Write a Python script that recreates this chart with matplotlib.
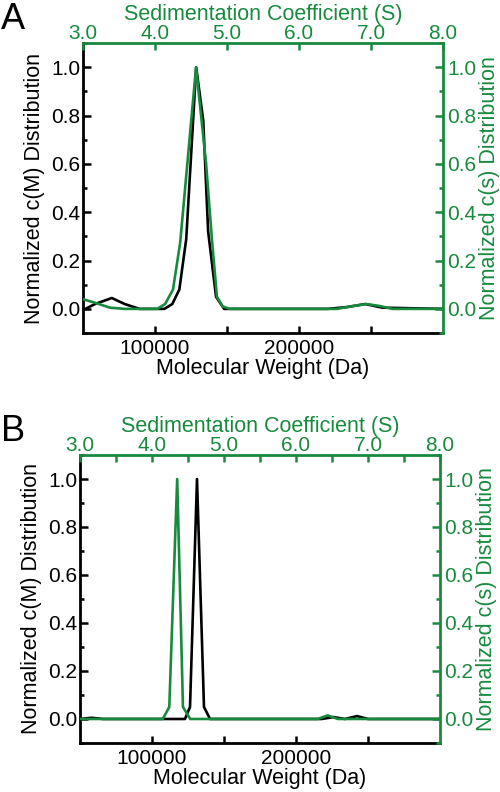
import matplotlib.pyplot as plt
from matplotlib.ticker import MultipleLocator, FixedLocator

plt.rcParams['font.family'] = ['Liberation Sans', 'DejaVu Sans']

GREEN = '#188a3e'

# Panel A: c(M) vs molecular weight (black), c(s) vs sedimentation coefficient (green)
a_mw = [50000, 58300, 70000, 79000, 89300, 106500, 112000, 116900, 121700, 128600,
        133500, 136900, 142400, 148000, 220000, 234000, 246000, 258000, 300000]
a_cm = [-0.005, 0.02, 0.045, 0.02, 0.0, 0.0, 0.02, 0.08, 0.29, 1.0,
        0.78, 0.32, 0.05, 0.0, 0.0, 0.008, 0.02, 0.005, 0.0]
a_s = [3.0, 3.17, 3.375, 3.58, 4.03, 4.14, 4.25, 4.35, 4.57, 4.71,
       4.79, 4.86, 4.94, 5.04, 6.53, 6.75, 6.94, 7.12, 7.3, 8.0]
a_cs = [0.04, 0.025, 0.005, 0.0, 0.0, 0.02, 0.08, 0.275, 1.0, 0.6,
        0.29, 0.05, 0.01, 0.0, 0.0, 0.012, 0.02, 0.012, 0.0, 0.0]

# Panel B
b_mw = [50000, 58000, 66000, 122900, 126400, 131250, 136100, 140300,
        218000, 226000, 234000, 242400, 250000, 300000]
b_cm = [0.0, 0.005, 0.0, 0.0, 0.05, 1.0, 0.05, 0.0,
        0.0, 0.008, 0.0, 0.012, 0.0, 0.0]
b_s = [3.0, 4.15, 4.24, 4.35, 4.43, 4.53, 6.3, 6.44, 6.58, 8.0]
b_cs = [0.0, 0.0, 0.05, 1.0, 0.05, 0.0, 0.0, 0.015, 0.0, 0.0]

panels = [
    ('A', [0.166, 0.5795, 0.72, 0.366], a_mw, a_cm, a_s, a_cs, 1.0),
    ('B', [0.160, 0.0619, 0.72, 0.3636], b_mw, b_cm, b_s, b_cs, 0.5),
]

fig = plt.figure(figsize=(5, 7.92), dpi=100)

for letter, rect, mw, cm, s, cs, s_step in panels:
    ax = fig.add_axes(rect)
    ax2 = fig.add_axes(rect, label=letter + 's')
    ax2.patch.set_visible(False)

    ax.plot(mw, cm, color='black', lw=1.9, zorder=2)
    ax2.plot(s, cs, color=GREEN, lw=1.9, zorder=3)

    ax.set_xlim(50000, 300000)
    ax.set_ylim(-0.1, 1.1)
    ax2.set_xlim(3.0, 8.0)
    ax2.set_ylim(-0.1, 1.1)

    # bottom / left axes (black)
    ax.xaxis.set_major_locator(FixedLocator([100000, 200000]))
    ax.xaxis.set_minor_locator(FixedLocator([150000, 250000]))
    ax.yaxis.set_major_locator(MultipleLocator(0.2))
    ax.yaxis.set_minor_locator(MultipleLocator(0.1))
    ax.xaxis.set_major_formatter(plt.FuncFormatter(lambda v, p: f"{int(v)}"))
    ax.yaxis.set_major_formatter(plt.FuncFormatter(lambda v, p: f"{v:.1f}"))
    ax.tick_params(axis='both', which='both', direction='in', width=1.8,
                   labelsize=15, top=False, right=False)
    ax.tick_params(axis='x', which='both', length=5, pad=4)
    ax.tick_params(axis='y', which='major', length=6, pad=2)
    ax.tick_params(axis='y', which='minor', length=3)
    for side in ['top', 'right']:
        ax.spines[side].set_visible(False)
    for side in ['left', 'bottom']:
        ax.spines[side].set_linewidth(2)
        ax.spines[side].set_color('black')
    ax.set_xlabel('Molecular Weight (Da)', fontsize=15.5, labelpad=0)
    ax.set_ylabel('Normalized c(M) Distribution', fontsize=15.5, labelpad=4)

    # top / right axes (green)
    ax2.xaxis.tick_top()
    ax2.xaxis.set_label_position('top')
    ax2.yaxis.tick_right()
    ax2.yaxis.set_label_position('right')
    ax2.xaxis.set_major_locator(MultipleLocator(1.0))
    ax2.xaxis.set_minor_locator(MultipleLocator(s_step))
    ax2.yaxis.set_major_locator(MultipleLocator(0.2))
    ax2.yaxis.set_minor_locator(MultipleLocator(0.1))
    ax2.xaxis.set_major_formatter(plt.FuncFormatter(lambda v, p: f"{v:.1f}"))
    ax2.yaxis.set_major_formatter(plt.FuncFormatter(lambda v, p: f"{v:.1f}"))
    ax2.tick_params(axis='both', which='both', direction='in', width=1.8,
                    labelsize=15, colors=GREEN, bottom=False, left=False)
    ax2.tick_params(axis='x', which='both', length=5, pad=0)
    ax2.tick_params(axis='y', which='major', length=6, pad=3)
    ax2.tick_params(axis='y', which='minor', length=3)
    for side in ['left', 'bottom']:
        ax2.spines[side].set_visible(False)
    for side in ['top', 'right']:
        ax2.spines[side].set_linewidth(2)
        ax2.spines[side].set_color(GREEN)
    ax2.set_xlabel('Sedimentation Coefficient (S)', fontsize=15.5, color=GREEN, labelpad=3)
    ax2.set_ylabel('Normalized c(s) Distribution', fontsize=15.5, color=GREEN, labelpad=2)

    x0 = 0.002
    y0 = rect[1] + rect[3] + 0.008
    fig.text(x0, y0, letter, fontsize=26, ha='left', va='bottom')

fig.savefig('out.png', dpi=100)
